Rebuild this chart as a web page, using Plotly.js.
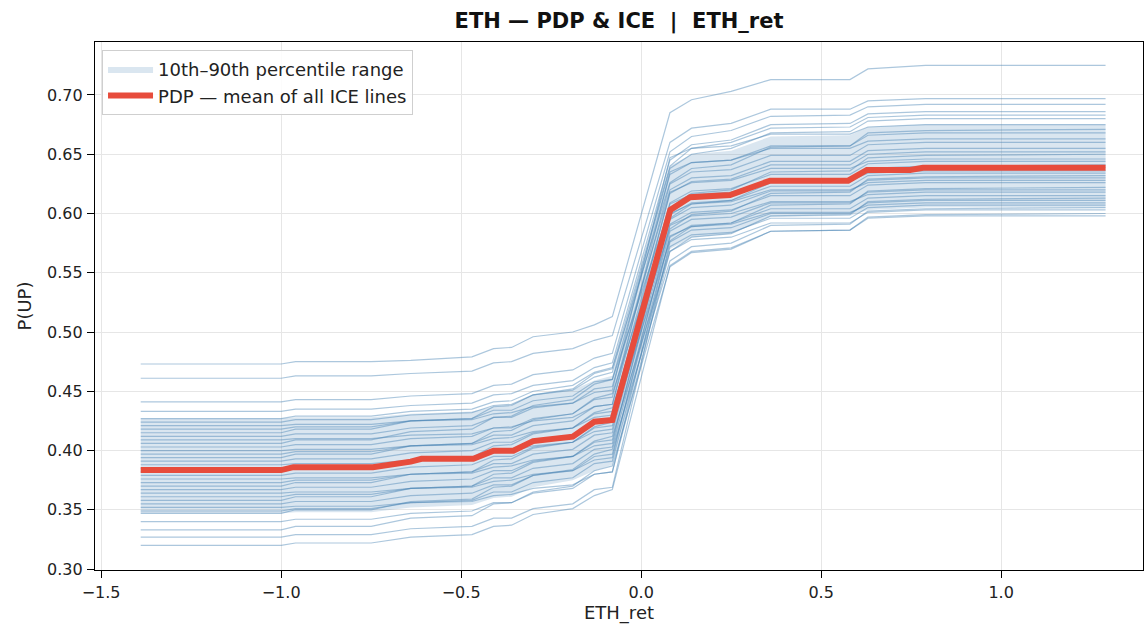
<!DOCTYPE html>
<html>
<head>
<meta charset="utf-8">
<script src="https://cdn.plot.ly/plotly-3.0.1.min.js"></script>
<style>html,body{margin:0;padding:0;background:#fff;}#chart{width:1147px;height:630px;}</style>
</head>
<body>
<div id="chart"></div>
<script>
// Feature grid (ETH_ret) used for ICE lines and the percentile band
const iceX = [-1.39, -1.00, -0.96, -0.75, -0.64, -0.47, -0.41, -0.36, -0.30, -0.19, -0.13, -0.08, 0.08, 0.14, 0.25, 0.36, 0.58, 0.63, 0.79, 1.29];

// ICE lines: P(UP) per sample at each grid point
const iceLines = [
  [.473,.473,.475,.475,.476,.479,.486,.487,.496,.500,.506,.513,.685,.696,.703,.713,.713,.722,.725,.725],
  [.461,.461,.463,.463,.465,.467,.474,.475,.482,.486,.493,.497,.660,.672,.676,.688,.688,.695,.697,.697],
  [.441,.441,.443,.443,.446,.448,.455,.456,.464,.468,.478,.482,.652,.665,.670,.682,.683,.690,.692,.692],
  [.433,.433,.435,.435,.438,.440,.447,.448,.455,.459,.470,.474,.645,.658,.662,.675,.676,.684,.686,.686],
  [.427,.427,.429,.429,.433,.435,.441,.442,.450,.455,.466,.470,.640,.655,.660,.672,.673,.681,.683,.683],
  [.424,.424,.426,.426,.430,.432,.438,.439,.447,.451,.462,.466,.638,.650,.655,.668,.669,.678,.680,.680],
  [.421,.421,.422,.422,.425,.426,.431,.432,.437,.440,.449,.451,.647,.655,.657,.667,.667,.673,.675,.675],
  [.418,.418,.420,.420,.425,.427,.434,.434,.442,.446,.458,.460,.633,.643,.645,.657,.657,.666,.668,.668],
  [.415,.415,.418,.418,.425,.427,.437,.438,.447,.452,.465,.469,.626,.638,.641,.656,.657,.668,.670,.671],
  [.412,.412,.414,.414,.419,.421,.428,.428,.436,.440,.452,.454,.620,.630,.632,.644,.644,.653,.655,.655],
  [.409,.409,.410,.410,.413,.414,.419,.420,.425,.428,.437,.439,.635,.643,.645,.655,.655,.661,.663,.663],
  [.406,.406,.409,.409,.416,.418,.428,.429,.438,.443,.456,.460,.605,.617,.620,.635,.636,.647,.649,.650],
  [.403,.403,.405,.405,.410,.412,.419,.419,.427,.431,.443,.445,.625,.635,.637,.649,.649,.658,.660,.660],
  [.400,.400,.401,.401,.404,.405,.410,.411,.416,.419,.428,.430,.618,.626,.628,.638,.638,.644,.646,.646],
  [.397,.397,.399,.399,.404,.406,.413,.413,.421,.425,.437,.439,.617,.627,.629,.641,.641,.650,.652,.652],
  [.394,.394,.397,.397,.404,.406,.416,.417,.426,.431,.444,.448,.596,.608,.611,.626,.627,.638,.640,.641],
  [.391,.391,.393,.393,.398,.400,.407,.407,.415,.419,.431,.433,.609,.619,.621,.633,.633,.642,.644,.644],
  [.388,.388,.389,.389,.392,.393,.398,.399,.404,.407,.416,.418,.608,.616,.618,.628,.628,.634,.636,.636],
  [.385,.385,.387,.387,.392,.394,.401,.401,.409,.413,.425,.427,.604,.614,.616,.628,.628,.637,.639,.639],
  [.382,.382,.385,.385,.392,.394,.404,.405,.414,.419,.432,.436,.587,.599,.602,.617,.618,.629,.631,.632],
  [.379,.379,.381,.381,.386,.388,.395,.395,.403,.407,.419,.421,.599,.609,.611,.623,.623,.632,.634,.634],
  [.376,.376,.377,.377,.380,.381,.386,.387,.392,.395,.404,.406,.600,.608,.610,.620,.620,.626,.628,.628],
  [.373,.373,.375,.375,.380,.382,.389,.389,.397,.401,.413,.415,.595,.605,.607,.619,.619,.628,.630,.630],
  [.370,.370,.373,.373,.380,.382,.392,.393,.402,.407,.420,.424,.577,.589,.592,.607,.608,.619,.621,.622],
  [.367,.367,.369,.369,.374,.376,.383,.383,.391,.395,.407,.409,.591,.601,.603,.615,.615,.624,.626,.626],
  [.364,.364,.365,.365,.368,.369,.374,.375,.380,.383,.392,.394,.590,.598,.600,.610,.610,.616,.618,.618],
  [.361,.361,.363,.363,.368,.370,.377,.377,.385,.389,.401,.403,.585,.595,.597,.609,.609,.618,.620,.620],
  [.358,.358,.361,.361,.368,.370,.380,.381,.390,.395,.408,.412,.568,.580,.583,.598,.599,.610,.612,.613],
  [.355,.355,.357,.357,.362,.364,.371,.371,.379,.383,.395,.397,.580,.590,.592,.604,.604,.613,.615,.615],
  [.352,.352,.353,.353,.356,.357,.362,.363,.368,.371,.380,.382,.581,.589,.591,.601,.601,.607,.609,.609],
  [.349,.349,.351,.351,.356,.358,.365,.365,.373,.377,.389,.391,.572,.582,.584,.596,.596,.605,.607,.607],
  [.347,.347,.350,.350,.357,.359,.369,.370,.379,.384,.397,.401,.560,.572,.575,.590,.591,.602,.604,.605],
  [.340,.340,.342,.342,.347,.349,.356,.356,.364,.368,.380,.382,.568,.578,.580,.592,.592,.601,.603,.603],
  [.333,.333,.336,.336,.343,.345,.355,.356,.365,.370,.383,.387,.555,.567,.570,.585,.586,.597,.599,.600],
  [.327,.327,.329,.329,.334,.336,.343,.343,.351,.355,.367,.369,.576,.586,.588,.600,.600,.609,.611,.611],
  [.320,.320,.322,.322,.327,.329,.336,.337,.346,.351,.362,.367,.556,.568,.571,.585,.586,.596,.598,.598]
];

// 10th and 90th percentile band
const bandLow  = [.347,.347,.348,.348,.352,.354,.360,.361,.369,.375,.383,.388,.570,.580,.583,.597,.598,.603,.605,.605];
const bandHigh = [.427,.427,.428,.428,.431,.433,.437,.438,.447,.451,.459,.463,.640,.650,.653,.665,.666,.673,.675,.675];

// PDP (mean of ICE lines)
const pdpX = [-1.39, -1.00, -0.966, -0.745, -0.64, -0.61, -0.466, -0.41, -0.355, -0.30, -0.19, -0.13, -0.08, 0.0, 0.081, 0.136, 0.247, 0.358, 0.575, 0.627, 0.747, 0.783, 1.29];
const pdpY = [0.3835, 0.3835, 0.386, 0.386, 0.3906, 0.393, 0.393, 0.3998, 0.3998, 0.408, 0.4117, 0.4243, 0.4257, 0.512, 0.603, 0.6137, 0.6156, 0.6277, 0.6277, 0.6367, 0.6367, 0.6386, 0.6386];

const xTicks = [-1.5, -1.0, -0.5, 0.0, 0.5, 1.0];
const yTicks = [0.30, 0.35, 0.40, 0.45, 0.50, 0.55, 0.60, 0.65, 0.70];

const FONT = "DejaVu Sans, Arial, sans-serif";
const traces = [];
traces.push({x: iceX, y: bandLow, mode: 'lines', line: {width: 0}, showlegend: false, hoverinfo: 'skip'});
traces.push({x: iceX, y: bandHigh, mode: 'lines', line: {width: 0}, fill: 'tonexty',
  fillcolor: 'rgba(70,130,180,0.2)', name: '10th\u201390th percentile range', hoverinfo: 'skip'});
iceLines.forEach(function(row){
  traces.push({x: iceX, y: row, mode: 'lines', line: {color: 'rgba(70,130,180,0.45)', width: 1.2},
    showlegend: false, hoverinfo: 'skip'});
});
traces.push({x: pdpX, y: pdpY, mode: 'lines', line: {color: '#e74c3c', width: 6},
  name: 'PDP \u2014 mean of all ICE lines'});

const axisCommon = {
  showline: true, linecolor: '#000', linewidth: 1.2, mirror: true,
  ticks: 'outside', ticklen: 7, tickwidth: 1, tickcolor: '#000', ticklabelstandoff: 1,
  showgrid: true, gridcolor: '#e6e6e6', gridwidth: 1, zeroline: false,
  tickfont: {family: FONT, size: 16, color: '#222'}
};

const layout = {
  width: 1147, height: 630,
  margin: {l: 95, r: 4, t: 42, b: 60},
  paper_bgcolor: '#fff', plot_bgcolor: '#fff',
  font: {family: FONT, color: '#222'},
  title: {text: '<b>ETH \u2014 PDP &amp; ICE \u00a0|\u00a0 ETH_ret</b>', x: 0.5, xref: 'paper',
    y: 0.967, yref: 'container', yanchor: 'middle', font: {family: FONT, size: 21, color: '#111'}},
  xaxis: Object.assign({}, axisCommon, {range: [-1.517, 1.394], tickvals: xTicks, tickformat: '.1f',
    title: {text: 'ETH_ret', font: {family: FONT, size: 18, color: '#222'}, standoff: 5}}),
  yaxis: Object.assign({}, axisCommon, {range: [0.2992, 0.7447], tickvals: yTicks, tickformat: '.2f',
    title: {text: 'P(UP)', font: {family: FONT, size: 18, color: '#222'}, standoff: 10}}),
  legend: {x: 0.0067, y: 0.985, xanchor: 'left', yanchor: 'top', bgcolor: 'rgba(255,255,255,0.85)',
    traceorder: 'normal', itemwidth: 45,
    bordercolor: '#cfcfcf', borderwidth: 1, font: {family: FONT, size: 18, color: '#222'}},
  showlegend: true
};

Plotly.newPlot('chart', traces, layout, {displayModeBar: false, staticPlot: true});
</script>
</body>
</html>
